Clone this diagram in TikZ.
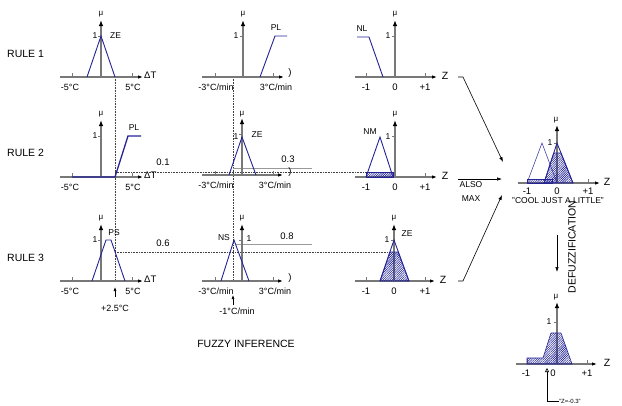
\documentclass[tikz,border=0pt]{standalone}
\usepackage{fontspec}
\setmainfont{Liberation Sans}
\usetikzlibrary{arrows.meta,patterns.meta}
\definecolor{mfblue}{RGB}{35,35,150}
\definecolor{axgray}{RGB}{120,120,120}
\newcommand{\fzpanel}[6]{%
  \draw[xaxis] (#1,#4) -- (#3,#4);
  \draw[yaxis] (#2,#4) -- (#2,#4-57);
  \draw[tick] (#5,#4) -- (#5,#4-4);
  \draw[tick] (#6,#4) -- (#6,#4-4);
  \draw[tick] (#2-3,#4-41) -- (#2,#4-41);
}
\begin{document}
\begin{tikzpicture}[x=1pt,y=-1pt,
  axis/.style={draw=axgray,line width=1.2pt},
  xaxis/.style={axis,-{Latex[length=5pt,width=3.5pt,color=black]}},
  yaxis/.style={axis,-{Latex[length=6pt,width=4.5pt,color=black]}},
  tick/.style={draw=axgray,line width=0.7pt},
  mf/.style={draw=mfblue,line width=0.9pt},
  mfthin/.style={draw=mfblue,line width=0.5pt},
  hatch/.style={draw=mfblue,line width=0.6pt,pattern={Lines[angle=45,distance=1.6pt,line width=0.6pt]},pattern color=mfblue},
  guide/.style={draw=black!75,densely dotted,line width=0.6pt},
  level/.style={draw=black!40,line width=0.8pt},
  arr/.style={draw=black,line width=0.6pt,-{Latex[length=5pt,width=3.5pt]}},
  big/.style={font=\fontsize{10.5}{12}\selectfont,inner sep=0pt},
  lab/.style={font=\fontsize{9}{10}\selectfont,inner sep=0pt},
  num/.style={font=\fontsize{9.5}{11}\selectfont,inner sep=0pt},
  mfl/.style={font=\fontsize{8.5}{10}\selectfont,inner sep=0pt},
  mu/.style={font=\fontsize{8}{9}\selectfont,inner sep=0pt},
]
\useasboundingbox (0,0) rectangle (622,405);

% ---------------- row labels
\node[big,anchor=west] (r1) at (7,54) {RULE 1};
\node[big,anchor=west] (r2) at (7,153) {RULE 2};
\node[big,anchor=west] (r3) at (7,258) {RULE 3};

% ---------------- guides (behind)
\draw[guide] (115,77) -- (115,281);
\draw[guide] (233,77) -- (233,281);
\draw[guide] (115,172) -- (366,172);
\draw[guide] (115,252) -- (390,252);
\draw[level] (233,168) -- (312,168);
\draw[level] (236,244) -- (312,244);
\node[num] (v1) at (163,162) {0.1};
\node[num] (v3) at (288,159) {0.3};
\node[num] (v6) at (163,243) {0.6};
\node[num] (v8) at (287,236) {0.8};

% ================= ROW 1
\fzpanel{60}{101}{143}{77}{72}{132}
\draw[mf] (87,77) -- (101,36) -- (115,77);
\node[mu] (m11) at (101,14) {μ};
\node[mfl] (o11) at (95,36) {1};
\node[mfl,anchor=west] (n11) at (110,36) {ZE};
\node[lab] (a11) at (70,87) {-5°C};
\node[lab] (b11) at (133,87) {5°C};
\node[num,anchor=west] (t11) at (144,75) {ΔT};

\fzpanel{202}{243}{284}{77}{215}{273}
\draw[mf] (260,77) -- (275,36) -- (287,36);
\node[mu] (m12) at (243,14) {μ};
\node[mfl] (o12) at (236,36) {1};
\node[mfl] (n12) at (276,28) {PL};
\node[lab] (a12) at (216,87) {-3°C/min};
\node[lab] (b12) at (276,87) {3°C/min};
\node[num] (t12) at (290,73) {)};

\fzpanel{355}{395}{437}{77}{366}{425}
\draw[mf] (357,37) -- (369,37) -- (383,77);
\node[mu] (m13) at (395,14) {μ};
\node[mfl] (o13) at (388,36) {1};
\node[mfl] (n13) at (362,29) {NL};
\node[num] (a13) at (366,87) {-1};
\node[num] (b13) at (395,87) {0};
\node[num] (c13) at (425,87) {+1};
\node[big] (z1) at (445,76) {Z};

% ================= ROW 2
\fzpanel{60}{101}{143}{177}{72}{132}
\draw[mf,line width=1.3pt] (72,177) -- (115,177) -- (128,136) -- (141,136);
\node[mu] (m21) at (101,114) {μ};
\node[mfl] (o21) at (95,136) {1};
\node[mfl] (n21) at (134,128) {PL};
\node[lab] (a21) at (70,187) {-5°C};
\node[lab] (b21) at (133,187) {5°C};
\node[num,anchor=west] (t21) at (144,175) {ΔT};

\fzpanel{202}{242}{283}{175}{215}{273}
\draw[mf] (229,175) -- (242,137) -- (256,175);
\node[mu] (m22) at (242,114) {μ};
\node[mfl] (o22) at (236,137) {1};
\node[mfl] (n22) at (257,135) {ZE};
\node[lab] (a22) at (216,185) {-3°C/min};
\node[lab] (b22) at (275,185) {3°C/min};
\node[num] (t22) at (290,172) {)};

\fzpanel{355}{395}{437}{177}{366}{425}
\draw[hatch] (366,172) rectangle (393,177);
\draw[mf] (366,177) -- (380,137) -- (393,177);
\node[mu] (m23) at (395,114) {μ};
\node[mfl] (o23) at (388,137) {1};
\node[mfl] (n23) at (370,132) {NM};
\node[num] (a23) at (366,187) {-1};
\node[num] (b23) at (395,187) {0};
\node[num] (c23) at (425,187) {+1};
\node[big] (z2) at (445,176) {Z};

% ================= ROW 3
\fzpanel{60}{101}{143}{281}{72}{132}
\draw[mf] (92,281) -- (106,240) -- (111,240) -- (125,281);
\node[mu] (m31) at (101,218) {μ};
\node[mfl] (o31) at (95,240) {1};
\node[mfl] (n31) at (114,233) {PS};
\node[lab] (a31) at (70,291) {-5°C};
\node[lab] (b31) at (133,291) {5°C};
\node[num,anchor=west] (t31) at (144,279) {ΔT};
\coordinate (p25) at (115,297);
\draw[arr,-{Latex[length=4pt,width=3pt]}] (p25) -- (115,287);
\node[lab] (x31) at (115,308) {+2.5°C};

\fzpanel{202}{242}{283}{281}{215}{273}
\draw[mf] (221,281) -- (234,240) -- (249,281);
\node[mu] (m32) at (242,218) {μ};
\node[mfl] (o32) at (249,239) {1};
\node[mfl] (n32) at (224,238) {NS};
\node[lab] (a32) at (216,291) {-3°C/min};
\node[lab] (b32) at (275,291) {3°C/min};
\node[num] (t32) at (290,278) {)};
\coordinate (pm1) at (233,305);
\draw[arr,-{Latex[length=4pt,width=3pt]}] (pm1) -- (233,295);
\node[lab] (x32) at (237,311) {-1°C/min};

\fzpanel{355}{394}{435}{281}{366}{425}
\draw[hatch] (380,281) -- (390,252) -- (398,252) -- (409,281) -- cycle;
\draw[mf] (380,281) -- (394,240) -- (409,281);
\node[mu] (m33) at (394,218) {μ};
\node[mfl] (o33) at (387,240) {1};
\node[mfl] (n33) at (407,234) {ZE};
\node[num] (a33) at (366,291) {-1};
\node[num] (b33) at (394,291) {0};
\node[num] (c33) at (425,291) {+1};
\node[big] (z3) at (443,280) {Z};

% ================= aggregation arrows
\coordinate (q1) at (503,162);
\coordinate (q2) at (502,179);
\coordinate (q3) at (502,195);
\draw[arr] (458,77) -- (463,77) -- (q1);
\draw[arr] (458,179) -- (q2);
\draw[arr] (458,281) -- (463,281) -- (q3);
\node[mfl] (also) at (471,185) {ALSO};
\node[mfl] (max) at (471,199) {MAX};

% ================= aggregate
\draw[xaxis] (518,183) -- (600,183);
\draw[yaxis] (557,183) -- (557,125);
\draw[tick] (527,183) -- (527,179);
\draw[tick] (588,183) -- (588,179);
\draw[tick] (554,143) -- (557,143);
\draw[hatch] (527,179) rectangle (552,183);
\draw[mfthin] (527,183) -- (542,143) -- (557,183);
\draw[hatch] (544,183) -- (553.75,153) -- (561,153) -- (573,183) -- cycle;
\draw[mf] (544,183) -- (557,143) -- (573,183);
\node[mu] (m4) at (556,120) {μ};
\node[mfl] (o4) at (550,143) {1};
\node[num] (a4) at (527,191) {-1};
\node[num] (b4) at (557,191) {0};
\node[num] (c4) at (588,191) {+1};
\node[big] (z4) at (607,182) {Z};
\node[mfl] (cool) at (558,201) {"COOL JUST A LITTLE"};

% ================= defuzzification
\coordinate (d1) at (557,235);
\coordinate (d2) at (557,272);
\draw[arr] (d1) -- (d2);
\node[big,rotate=90] (defz) at (572,247) {DEFUZZIFICATION};

\draw[xaxis] (516,364) -- (597,364);
\draw[yaxis] (557,364) -- (557,302);
\draw[tick] (527,364) -- (527,360);
\draw[tick] (587,364) -- (587,360);
\draw[tick] (554,322) -- (557,322);
\draw[hatch] (527,358) -- (543,358) -- (551,333) -- (561,333) -- (572,364) -- (527,364) -- cycle;
\node[mu] (m5) at (556,297) {μ};
\node[mfl] (o5) at (549,322) {1};
\node[num] (a5) at (526,373) {-1};
\node[num] (b5) at (553,373) {0};
\node[num] (c5) at (587,373) {+1};
\node[big] (z5) at (607,363) {Z};
\coordinate (cz) at (547,368);
\coordinate (cb) at (547,401);
\node[font=\fontsize{6}{7}\selectfont,inner sep=0pt,anchor=west] (res) at (559,401) {"Z=-0.3"};
\draw[draw=black,line width=0.6pt,-{Triangle[open,length=4pt,width=4pt]}] (res.west) -- (cb) -- (cz);

\node[big] (fi) at (246,344) {FUZZY INFERENCE};
\end{tikzpicture}
\end{document}
